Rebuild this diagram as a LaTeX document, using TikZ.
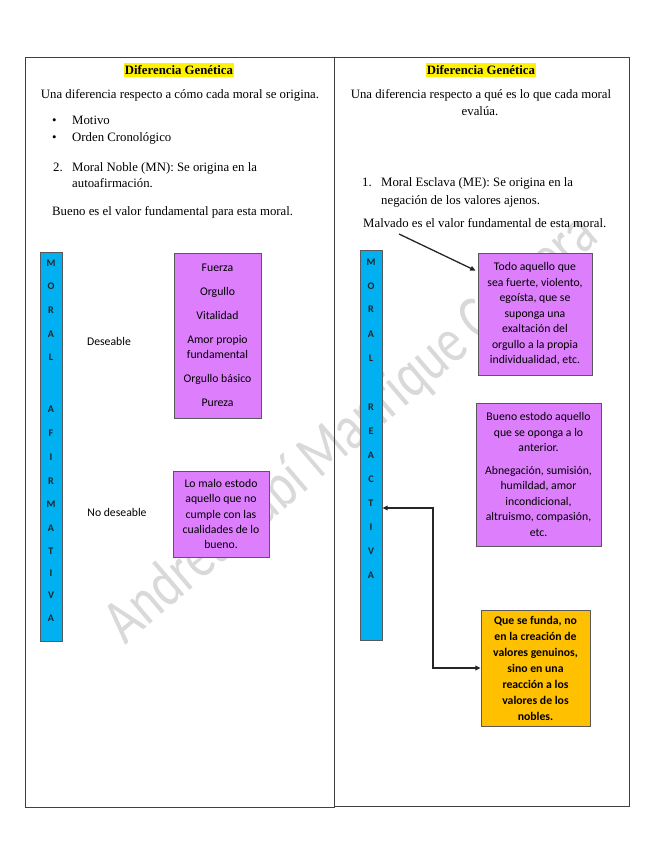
\documentclass[tikz,border=0pt]{standalone}
\usepackage{fontspec}
\setmainfont{Liberation Serif}
\newfontfamily\boxfont{Carlito}
\usetikzlibrary{arrows.meta,positioning}
\newdimen\pxu \pxu=0.9344bp
\definecolor{boxpink}{RGB}{221,126,252}
\definecolor{barblue}{RGB}{0,176,240}
\definecolor{boxorange}{RGB}{255,192,0}
\definecolor{boxline}{RGB}{89,89,89}
\tikzset{
  panel/.style={draw=black!75, line width=1\pxu},
  body/.style={font=\fontsize{12}{14}\selectfont, inner sep=0pt, anchor=base west},
  headline/.style={font=\bfseries\fontsize{12}{14}\selectfont, fill=yellow, inner xsep=0.5pt, inner ysep=0pt, text height=10pt, text depth=2.6pt, anchor=base},
  bar/.style={draw=boxline, fill=barblue, minimum width=22\pxu, line width=0.8\pxu, inner sep=0pt},
  barletter/.style={font=\boxfont\bfseries\fontsize{9.5}{10}\selectfont, text=black!85, inner sep=0pt},
  sidelabel/.style={font=\boxfont\fontsize{11}{13}\selectfont, inner sep=0pt},
  valuebox/.style={draw=boxline, fill=boxpink, line width=0.8\pxu, align=center, inner sep=0pt, font=\boxfont\fontsize{11}{14.5}\selectfont},
  link/.style={line width=1.3\pxu, black!85, -{Triangle[length=5pt,width=4.5pt]}},
  linkboth/.style={link, {Triangle[length=5pt,width=4.5pt]}-{Triangle[length=5pt,width=4.5pt]}},
}
\begin{document}
\begin{tikzpicture}[x=1\pxu, y=-1\pxu]
\useasboundingbox (0,0) rectangle (655,848);
% watermark
\node[rotate=40.5, text=black!15, font=\boxfont\fontsize{60}{60}\selectfont] (marca) at (352,430)
  {\scalebox{0.78}[1]{Andrea Yubí Manrique Cabrera}};
% panels
\draw[panel] (25,57) rectangle (334,807);
\draw[panel] (334,57) rectangle (629,806);

% left column
\node[headline] (tituloI) at (179,74) {Diferencia Genética};
\node[body, anchor=base] (defI) at (180,98) {Una diferencia respecto a cómo cada moral se origina.};
\node[body] (bulI) at (52,124) {\textbullet};
\node[body] (motivo) at (72,124) {Motivo};
\node[body] (bulII) at (52,141) {\textbullet};
\node[body] (orden) at (72,141) {Orden Cronológico};
\node[body] (numII) at (53,171) {2.};
\node[body] (noble) at (72,171) {Moral Noble (MN): Se origina en la};
\node[body] (noble2) at (72,187) {autoafirmación.};
\node[body] (buenoI) at (52,215) {Bueno es el valor fundamental para esta moral.};

\node[bar, minimum height=389\pxu] (barI) at (51,446.5) {};
\foreach \l/\y in {M/263,O/286,R/310,A/334,L/357,A/409,F/433,I/457,R/481,M/504,A/528,T/551,I/573,V/595,A/618}{
  \node[barletter] at (51,\y) {\l};
}
\node[sidelabel] (deseable) at (109,341) {Deseable};
\node[sidelabel] (nodeseable) at (117,512) {No deseable};
\node[valuebox, minimum width=87\pxu, minimum height=165\pxu] (fuerza) at (217.5,335.5)
  {Fuerza\\[8pt]Orgullo\\[8pt]Vitalidad\\[8pt]Amor propio\\fundamental\\[8pt]Orgullo básico\\[8pt]Pureza};
\node[valuebox, minimum width=96\pxu, minimum height=86\pxu] (malo) at (221,514)
  {Lo malo estodo\\aquello que no\\cumple con las\\cualidades de lo\\bueno.};

% right column
\node[headline] (tituloD) at (481,74) {Diferencia Genética};
\node[body, anchor=base] (defD) at (481,98) {Una diferencia respecto a qué es lo que cada moral};
\node[body, anchor=base] (defD2) at (480,115) {evalúa.};
\node[body] (numI) at (362,186) {1.};
\node[body] (esclava) at (381,186) {Moral Esclava (ME): Se origina en la};
\node[body] (esclava2) at (381,204) {negación de los valores ajenos.};
\node[body] (malvado) at (363,227) {Malvado es el valor fundamental de esta moral.};

\node[bar, minimum height=390\pxu] (barD) at (371,445) {};
\foreach \l/\y in {M/262,O/286,R/309,A/334,L/358,R/407,E/431,A/455,C/479,T/503,I/527,V/551,A/575}{
  \node[barletter] at (371,\y) {\l};
}
\node[valuebox, minimum width=114\pxu, minimum height=122\pxu] (todo) at (535,314)
  {Todo aquello que\\sea fuerte, violento,\\egoísta, que se\\suponga una\\exaltación del\\orgullo a la propia\\individualidad, etc.};
\node[valuebox, minimum width=125\pxu, minimum height=143\pxu] (bueno) at (538.5,474.5)
  {Bueno estodo aquello\\que se oponga a lo\\anterior.\\[7pt]Abnegación, sumisión,\\humildad, amor\\incondicional,\\altruismo, compasión,\\etc.};
\node[valuebox, fill=boxorange, font=\boxfont\bfseries\fontsize{11}{15}\selectfont, minimum width=109\pxu, minimum height=116\pxu] (reaccion) at (535.5,668)
  {Que se funda, no\\en la creación de\\valores genuinos,\\sino en una\\reacción a los\\valores de los\\nobles.};

% connectors
\coordinate (malvadoPie) at (399,234);
\draw[link] (malvadoPie) -- ([xshift=-2\pxu, yshift=-18\pxu]todo.north west);
\coordinate (codo) at (433,508);
\draw[linkboth] (barD.east |- codo) -- (codo) |- (reaccion.west);
\end{tikzpicture}
\end{document}
